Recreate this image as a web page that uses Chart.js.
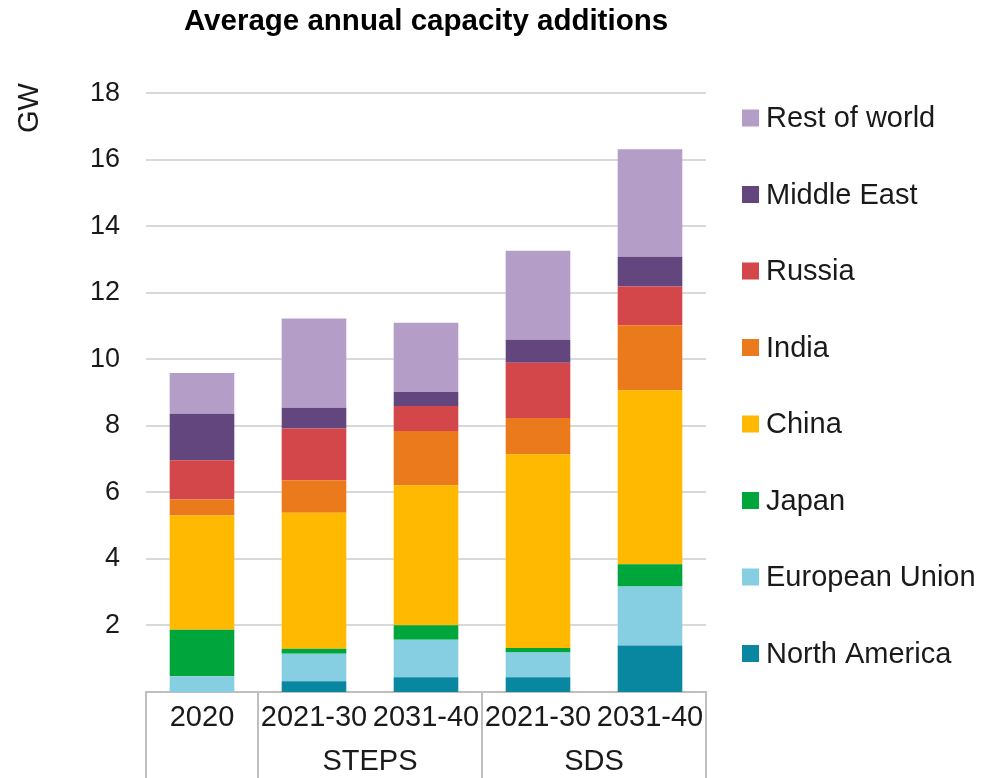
<!DOCTYPE html>
<html>
<head>
<meta charset="utf-8">
<title>Average annual capacity additions</title>
<script src="https://cdn.jsdelivr.net/npm/chart.js@4.4.1/dist/chart.umd.min.js"></script>
<style>
    html, body { margin: 0; padding: 0; background: #fff; }
    #wrap { width: 981px; height: 778px; position: relative; }
</style>
</head>
<body>
<div id="wrap"><canvas id="chart"></canvas></div>
<script>
// Categories and scenario groups
const categories = ['2020', '2021-30', '2031-40', '2021-30', '2031-40'];
const scenarios = ['', 'STEPS', 'STEPS', 'SDS', 'SDS'];
const yTicks = [2, 4, 6, 8, 10, 12, 14, 16, 18];

// GW per region, stacked bottom to top
const northAmerica = [0, 0.32, 0.44, 0.44, 1.40];
const europeanUnion = [0.47, 0.83, 1.13, 0.75, 1.77];
const japan = [1.40, 0.15, 0.44, 0.13, 0.67];
const china = [3.44, 4.09, 4.21, 5.83, 5.23];
const india = [0.48, 0.98, 1.63, 1.09, 1.96];
const russia = [1.18, 1.55, 0.75, 1.66, 1.16];
const middleEast = [1.40, 0.63, 0.42, 0.69, 0.90];
const restOfWorld = [1.22, 2.68, 2.08, 2.68, 3.23];

const seriesNames = ['North America', 'European Union', 'Japan', 'China', 'India', 'Russia', 'Middle East', 'Rest of world'];
const seriesValues = [northAmerica, europeanUnion, japan, china, india, russia, middleEast, restOfWorld];
const seriesColors = ['#0a87a0', '#86cee2', '#00a63c', '#ffb900', '#ea7a1c', '#d3474a', '#63467e', '#b49ec8'];

const FONT = "'Liberation Sans', Arial, sans-serif";
const TEXT = '#1a1a1a';

// Boxes under the category axis, group labels, GW label and legend
const extrasPlugin = {
    id: 'extras',
    afterDraw(chart) {
        const ctx = chart.ctx;
        const x = chart.scales.x;
        const area = chart.chartArea;

        ctx.save();
        ctx.strokeStyle = '#bfbfbf';
        ctx.lineWidth = 2;
        const edges = [0];
        for (let i = 1; i < categories.length; i++) {
            if (scenarios[i] !== scenarios[i - 1]) edges.push(i);
        }
        edges.push(categories.length);
        edges.forEach(i => {
            const px = x.getPixelForValue(i - 0.5);
            ctx.beginPath();
            ctx.moveTo(px, area.bottom);
            ctx.lineTo(px, chart.height);
            ctx.stroke();
        });

        ctx.fillStyle = TEXT;
        ctx.font = '29px ' + FONT;
        ctx.textAlign = 'center';
        ctx.textBaseline = 'middle';
        for (let k = 0; k < edges.length - 1; k++) {
            const a = edges[k], b = edges[k + 1] - 1;
            if (!scenarios[a]) continue;
            const cx = (x.getPixelForValue(a) + x.getPixelForValue(b)) / 2;
            ctx.fillText(scenarios[a], cx, 762);
        }

        // GW
        ctx.save();
        ctx.translate(30, 108);
        ctx.rotate(-Math.PI / 2);
        ctx.fillText('GW', 0, 0);
        ctx.restore();

        // legend, top item = last dataset
        ctx.textAlign = 'left';
        const ds = chart.data.datasets;
        for (let k = 0; k < ds.length; k++) {
            const d = ds[ds.length - 1 - k];
            const cy = 118 + k * 76.5;
            ctx.fillStyle = d.backgroundColor;
            ctx.fillRect(742, cy - 8.5, 17, 17);
            ctx.fillStyle = TEXT;
            ctx.fillText(d.label, 766, cy + 1);
        }
        ctx.restore();
    }
};

const ctx = document.getElementById('chart').getContext('2d');
new Chart(ctx, {
    type: 'bar',
    data: {
        labels: categories,
        datasets: seriesNames.map((name, i) => ({
            label: name,
            data: seriesValues[i],
            backgroundColor: seriesColors[i],
            borderWidth: 0,
            barPercentage: 0.577,
            categoryPercentage: 1
        }))
    },
    options: {
        responsive: true,
        maintainAspectRatio: false,
        animation: false,
        layout: { padding: { left: 0, right: 275, top: 0, bottom: 0 } },
        plugins: {
            legend: { display: false },
            tooltip: { enabled: false },
            title: {
                display: true,
                text: 'Average annual capacity additions',
                fullSize: false,
                color: '#000',
                font: { family: FONT, size: 29.5, weight: 'bold' },
                padding: { top: 4, bottom: 54 }
            }
        },
        scales: {
            x: {
                stacked: true,
                grid: { display: false, drawTicks: false },
                border: { display: true, color: '#bfbfbf', width: 2 },
                ticks: {
                    color: TEXT,
                    font: { family: FONT, size: 29 },
                    padding: 9,
                    maxRotation: 0,
                    autoSkip: false
                },
                afterFit(scale) { scale.height = 86; }
            },
            y: {
                stacked: true,
                min: 0,
                max: 18,
                afterBuildTicks(scale) { scale.ticks = yTicks.map(v => ({ value: v })); },
                grid: { color: '#d9d9d9', lineWidth: 2, drawTicks: false },
                border: { display: false },
                ticks: {
                    color: TEXT,
                    font: { family: FONT, size: 27 },
                    padding: 26
                },
                afterFit(scale) { scale.width = 146; }
            }
        }
    },
    plugins: [extrasPlugin]
});
</script>
</body>
</html>
